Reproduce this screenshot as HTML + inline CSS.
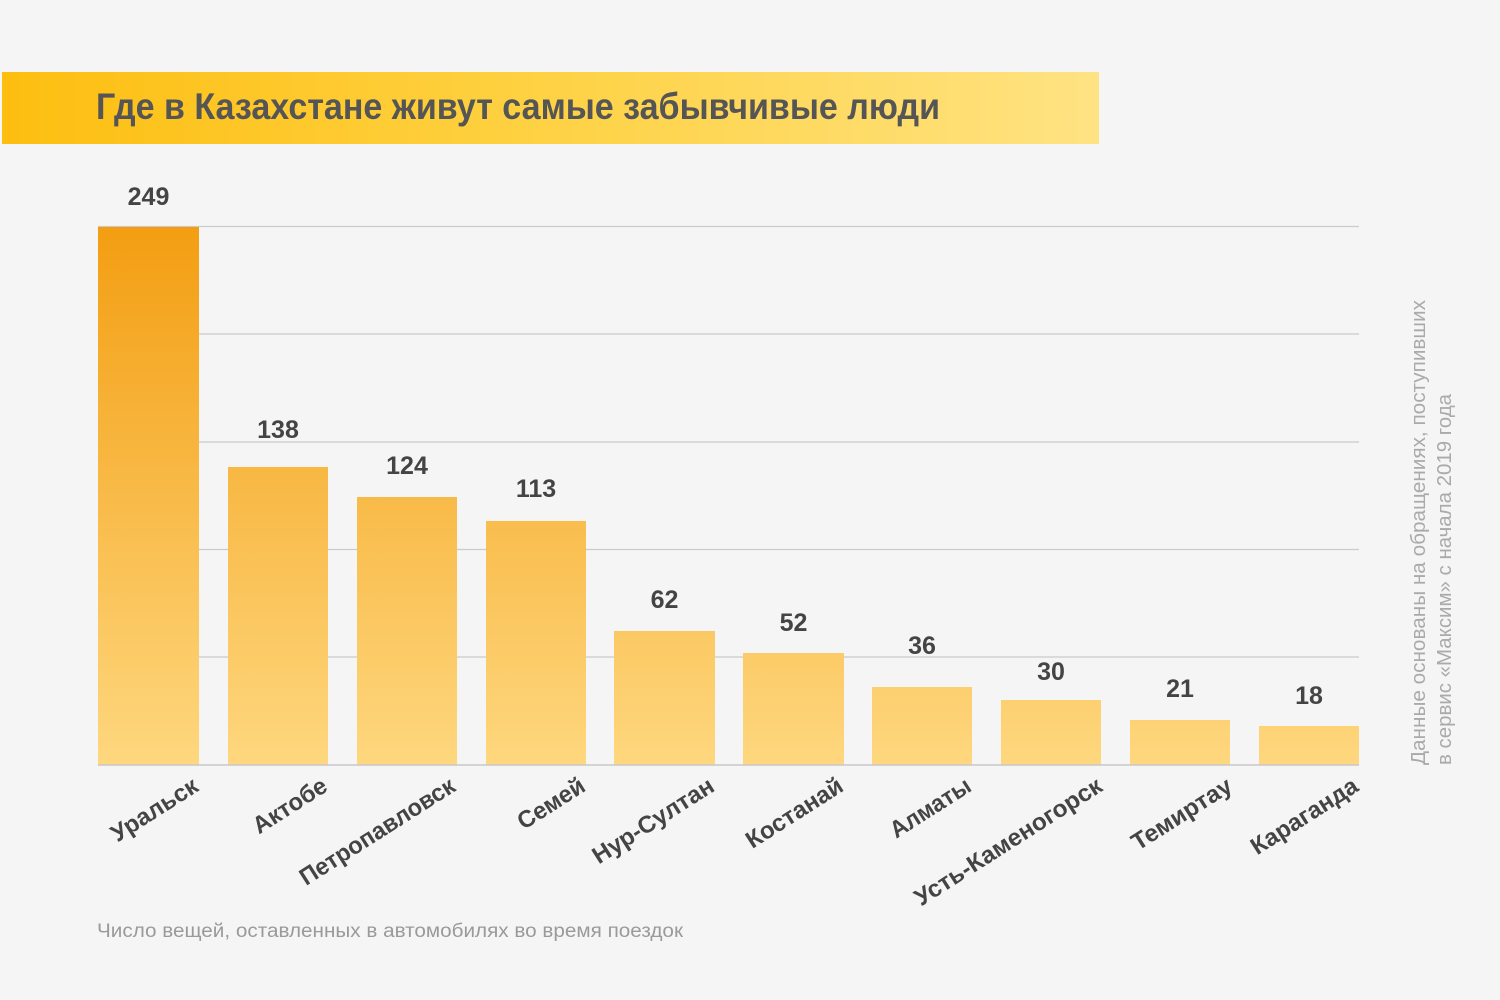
<!DOCTYPE html>
<html>
<head>
<meta charset="utf-8">
<style>
html,body{margin:0;padding:0;background:#f5f5f5;}
svg{display:block;}
</style>
</head>
<body>
<svg width="1500" height="1000" viewBox="0 0 1500 1000" xmlns="http://www.w3.org/2000/svg">
<defs>
<linearGradient id="tg" x1="0" y1="0" x2="1" y2="0">
<stop offset="0" stop-color="#FDBE10"/>
<stop offset="0.5" stop-color="#FED244"/>
<stop offset="1" stop-color="#FFE383"/>
</linearGradient>
<linearGradient id="bg" gradientUnits="userSpaceOnUse" x1="0" y1="227" x2="0" y2="765">
<stop offset="0" stop-color="#F39E12"/>
<stop offset="1" stop-color="#FED77E"/>
</linearGradient>
</defs>
<rect x="0" y="0" width="1500" height="1000" fill="#f5f5f5"/>
<rect x="2" y="72" width="1097" height="72" fill="url(#tg)"/>
<text x="96" y="119" font-family="Liberation Sans, sans-serif" font-weight="bold" font-size="37" fill="#555555" textLength="844" lengthAdjust="spacingAndGlyphs">Где в Казахстане живут самые забывчивые люди</text>

<g stroke="#cacaca" stroke-width="1.3">
<line x1="98" y1="226.5" x2="1359" y2="226.5"/>
<line x1="98" y1="334" x2="1359" y2="334"/>
<line x1="98" y1="442" x2="1359" y2="442"/>
<line x1="98" y1="549.5" x2="1359" y2="549.5"/>
<line x1="98" y1="657" x2="1359" y2="657"/>
</g>

<g fill="url(#bg)">
<rect x="98" y="227" width="101" height="538"/>
<rect x="228" y="467" width="100" height="298"/>
<rect x="357" y="497" width="100" height="268"/>
<rect x="486" y="521" width="100" height="244"/>
<rect x="614" y="631" width="101" height="134"/>
<rect x="743" y="653" width="101" height="112"/>
<rect x="872" y="687" width="100" height="78"/>
<rect x="1001" y="700" width="100" height="65"/>
<rect x="1130" y="720" width="100" height="45"/>
<rect x="1259" y="726" width="100" height="39"/>
</g>
<line x1="98" y1="765" x2="1359" y2="765" stroke="#c8c8c8" stroke-width="1.5"/>

<g font-family="Liberation Sans, sans-serif" font-weight="bold" font-size="25" fill="#444444" text-anchor="middle">
<text x="148.5" y="205">249</text>
<text x="278" y="438">138</text>
<text x="407" y="474">124</text>
<text x="536" y="497">113</text>
<text x="664.5" y="608">62</text>
<text x="793.5" y="631">52</text>
<text x="922" y="654">36</text>
<text x="1051" y="680">30</text>
<text x="1180" y="697">21</text>
<text x="1309" y="704">18</text>
</g>

<g font-family="Liberation Sans, sans-serif" font-weight="bold" font-size="24" fill="#444444" text-anchor="end">
<text transform="translate(200,790) rotate(-32.5)" textLength="98" lengthAdjust="spacingAndGlyphs">Уральск</text>
<text transform="translate(329,790) rotate(-32.5)" textLength="83" lengthAdjust="spacingAndGlyphs">Актобе</text>
<text transform="translate(457,790) rotate(-32.5)" textLength="179" lengthAdjust="spacingAndGlyphs">Петропавловск</text>
<text transform="translate(587,790) rotate(-32.5)" textLength="75" lengthAdjust="spacingAndGlyphs">Семей</text>
<text transform="translate(716,790) rotate(-32.5)" textLength="139" lengthAdjust="spacingAndGlyphs">Нур-Султан</text>
<text transform="translate(845,790) rotate(-32.5)" textLength="110" lengthAdjust="spacingAndGlyphs">Костанай</text>
<text transform="translate(973,790) rotate(-32.5)" textLength="91" lengthAdjust="spacingAndGlyphs">Алматы</text>
<text transform="translate(1104,790) rotate(-32.5)" textLength="217" lengthAdjust="spacingAndGlyphs">Усть-Каменогорск</text>
<text transform="translate(1234,790) rotate(-32.5)" textLength="114" lengthAdjust="spacingAndGlyphs">Темиртау</text>
<text transform="translate(1360,790) rotate(-32.5)" textLength="122" lengthAdjust="spacingAndGlyphs">Караганда</text>
</g>

<g font-family="Liberation Sans, sans-serif" font-size="20" fill="#aaaaaa">
<text transform="translate(1425,765) rotate(-90)" textLength="465" lengthAdjust="spacingAndGlyphs">Данные основаны на обращениях, поступивших</text>
<text transform="translate(1451,765) rotate(-90)" textLength="371" lengthAdjust="spacingAndGlyphs">в сервис «Максим» с начала 2019 года</text>
</g>

<text x="97" y="937" font-family="Liberation Sans, sans-serif" font-size="19" fill="#9a9a9a" textLength="586" lengthAdjust="spacingAndGlyphs">Число вещей, оставленных в автомобилях во время поездок</text>
</svg>
</body>
</html>
